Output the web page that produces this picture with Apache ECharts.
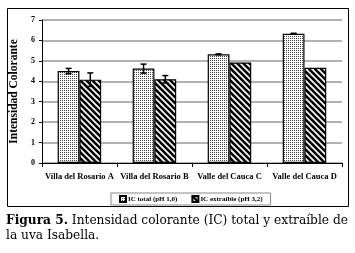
<!DOCTYPE html>
<html><head><meta charset="utf-8">
<script src="https://cdn.jsdelivr.net/npm/echarts@6/dist/echarts.min.js"></script>
<style>html,body{margin:0;padding:0;background:#fff}#c{width:355px;height:253px}</style>
</head><body><div id="c"></div>
<script>
const categories = ['Villa del Rosario A','Villa del Rosario B','Valle del Cauca C','Valle del Cauca D'];
const totalValues = [4.5, 4.62, 5.32, 6.33];
const totalErr = [0.13, 0.22, 0.02, 0.02];
const extrValues = [4.08, 4.1, 4.92, 4.66];
const extrErr = [0.33, 0.18, 0, 0];
const seriesNames = ['IC total (pH 1,0)', 'IC extraíble (pH 3,2)'];
const yTicks = [0,1,2,3,4,5,6,7];

function dotPattern(){
  const c=document.createElement('canvas'); c.width=2; c.height=2;
  const x=c.getContext('2d'); x.fillStyle='#fff'; x.fillRect(0,0,2,2);
  x.fillStyle='#444'; x.fillRect(0,0,1,1);
  return c;
}
function stripePattern(){
  const n=6; const c=document.createElement('canvas'); c.width=n; c.height=n;
  const x=c.getContext('2d'); x.fillStyle='#fff'; x.fillRect(0,0,n,n);
  x.strokeStyle='#000'; x.lineWidth=2.6;
  for(let k=-1;k<=1;k++){ x.beginPath(); x.moveTo(k*n-1,-1); x.lineTo(k*n+n+1,n+1); x.stroke(); }
  return c;
}
const gap = 0.42;
function errSeries(vals, errs, side){
  return {
    type:'custom', silent:true, z:5,
    data: vals.map((v,i)=>[i, v, errs[i]]),
    renderItem(params, api){
      const i=api.value(0), v=api.value(1), e=api.value(2);
      if(!e) return null;
      const band=api.size([1,0])[0];
      const off = side*band*(1-gap)/4;
      const p1=api.coord([i, v+e]), p2=api.coord([i, v-e]);
      const x=p1[0]+off, w=3;
      const st={stroke:'#000', lineWidth:1.5};
      return {type:'group', children:[
        {type:'line', shape:{x1:x,y1:p1[1],x2:x,y2:p2[1]}, style:st},
        {type:'line', shape:{x1:x-w,y1:p1[1],x2:x+w,y2:p1[1]}, style:st},
        {type:'line', shape:{x1:x-w,y1:p2[1],x2:x+w,y2:p2[1]}, style:st}
      ]};
    }
  };
}
const chart=echarts.init(document.getElementById('c'),null,{renderer:'canvas'});
const serif='"Liberation Serif", "Times New Roman", serif';
const capSerif='"DejaVu Serif", serif';
chart.setOption({
  animation:false,
  grid:{left:40, right:13, top:20, bottom:90},
  graphic:[
    {type:'rect', shape:{x:7.5,y:8.5,width:341,height:198}, style:{fill:'none',stroke:'#000',lineWidth:1}, z:-1},
    {type:'text', left:6, top:215, style:{
      text:'{b|Figura 5.}{n| Intensidad colorante (IC) total y extraíble de}\n{n|la uva Isabella.}',
      rich:{b:{fontFamily:capSerif, fontWeight:'bold', fontSize:12.2, fill:'#000', lineHeight:15},
            n:{fontFamily:capSerif, fontSize:12.2, fill:'#000', lineHeight:15}}
    }}
  ],
  legend:{
    top:193, left:111, itemWidth:6, itemHeight:6, itemGap:14,
    borderColor:'#888', borderWidth:1, padding:[2,8,2,8],
    textStyle:{fontFamily:serif, fontWeight:'bold', fontSize:7, color:'#000', padding:[0,0,0,-3]},
    data: seriesNames.map(n=>({name:n, icon:'rect'}))
  },
  xAxis:{
    type:'category', data:categories,
    axisLine:{lineStyle:{color:'#000', width:1}},
    axisTick:{show:true, alignWithLabel:false, length:4, lineStyle:{color:'#000'}},
    axisLabel:{fontFamily:serif, fontWeight:'bold', fontSize:8.5, color:'#000', margin:9, interval:0}
  },
  yAxis:{
    type:'value', min:0, max:7, interval:1,
    name:'Intensidad Colorante', nameLocation:'middle', nameGap:21,
    nameTextStyle:{fontFamily:serif, fontWeight:'bold', fontSize:11.5, color:'#000'},
    axisLine:{show:true, lineStyle:{color:'#000'}},
    axisTick:{show:true, length:3, lineStyle:{color:'#000'}},
    axisLabel:{fontFamily:serif, fontWeight:'bold', fontSize:8, color:'#000', margin:7,
      formatter:v=>yTicks.includes(v)?String(v):''},
    splitLine:{show:true, lineStyle:{color:'#999', width:1.5}}
  },
  series:[
    {name:seriesNames[0], type:'bar', data:totalValues, barGap:'0%', barCategoryGap:(gap*100)+'%',
     itemStyle:{color:{image:dotPattern(), repeat:'repeat'}, borderColor:'#000', borderWidth:1.2}},
    {name:seriesNames[1], type:'bar', data:extrValues, barGap:'0%', barCategoryGap:(gap*100)+'%',
     itemStyle:{color:{image:stripePattern(), repeat:'repeat'}, borderColor:'#000', borderWidth:1.2}},
    errSeries(totalValues,totalErr,-1),
    errSeries(extrValues,extrErr,1)
  ]
});
</script></body></html>
